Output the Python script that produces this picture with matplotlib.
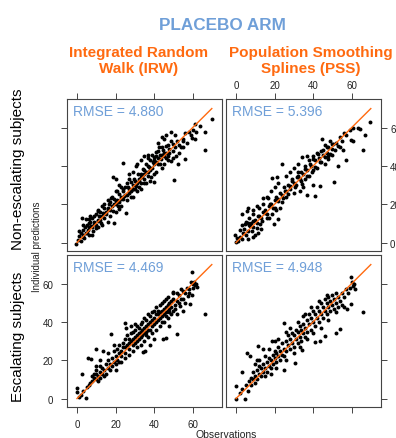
import matplotlib
matplotlib.use("Agg")
import matplotlib.pyplot as plt

# ---- data (observations, individual predictions) ----
IRW_NONESC = [
    (-0.5, -1), (0.3, 1.6), (1.2, 3.3), (2, 0.7), (2.9, 4.2), (1.2, 6), (3.8, 2.5), (4.7, 5.1),
    (2.9, 6.8), (5.5, 6.8), (6.4, 4.2), (7.3, 8.6), (8.1, 6), (2.6, 13), (4.7, 12.1), (6.4, 12.1),
    (9, 9.5), (9.9, 7.7), (10.7, 11.2), (11.6, 13.9), (12.5, 10.4), (13.3, 15.6), (10.7, 16.5),
    (15, 14.7), (14.2, 18.2), (15.9, 17.4), (16.8, 20), (18.5, 16.5), (19.3, 10.4), (17.6, 23.5),
    (20.2, 21.8), (21.1, 19.1), (22, 25.3), (22, 17.4), (22.8, 22.6), (23.7, 27.9), (24.6, 24.4),
    (25.4, 15.6), (24, 41.6), (18.5, 34), (20.2, 33.2), (26.3, 28.8), (27.2, 26.1), (28, 31.4),
    (28.9, 27.9), (29.8, 33.2), (30.6, 29.6), (30.8, 39.8), (31.5, 35.8), (32.4, 32.3), (33.2, 34),
    (34.1, 38.4), (34.6, 30.9), (35, 35.8), (35.8, 41.1), (36.7, 36.7), (36.9, 45.6), (37.5, 39.3),
    (38.4, 34), (39.3, 41.9), (39.8, 31.4), (40.1, 44.6), (41, 47.2), (41.9, 41.1), (42.7, 49.8),
    (43.6, 43.7), (44.5, 48.1), (45, 54), (45.3, 41.1), (46.2, 50.7), (47.1, 45.4), (47.9, 48.9),
    (48.8, 42.8), (49.7, 51.6), (50.5, 32.6), (51.4, 45.4), (52.2, 41.1), (54, 49.8), (54.8, 53.3),
    (56.1, 57.5), (56.3, 43.5), (59.7, 54.7), (61.4, 54), (61.2, 62.1), (63.8, 61.1), (66.6, 57.9),
    (66.3, 48.4), (70.1, 64.7),
    (3, 3), (5, 5), (6, 8), (8, 8), (9, 11), (10, 9), (11, 12), (12, 12), (13, 14), (14, 13),
    (15, 16), (16, 18), (17, 17), (18, 19), (19, 20), (20, 20), (21, 22), (22, 21), (23, 24),
    (24, 23), (25, 25), (5, 9), (7, 11), (12, 16), (14, 20), (18, 24), (20, 27), (22, 30), (10, 15),
    (26, 25), (27, 28), (28, 27), (29, 30), (30, 28), (30, 32), (31, 31), (32, 33), (33, 31),
    (33, 36), (34, 35), (35, 33), (35, 38), (36, 37), (37, 35), (37, 40), (38, 38), (39, 39),
    (40, 41), (40, 36), (41, 42), (42, 44), (43, 41), (44, 46), (45, 45), (46, 47), (47, 51),
    (48, 47), (49, 53), (50, 48), (51, 50), (52, 53), (53, 51), (55, 54), (58, 58), (60, 59),
    (38, 43), (39, 46), (41, 45), (42, 48), (43, 46), (44, 50), (45, 47), (46, 44), (40, 43),
    (37, 44), (26, 31), (27, 33), (29, 28), (31, 27), (32, 29), (33, 28), (28, 24), (25, 29),
    (24, 27), (23, 29), (21, 27), (19, 23), (17, 21), (16, 22), (13, 19), (11, 17), (9, 14),
    (8, 13), (7, 14), (6, 10), (4, 8), (3, 9), (2, 5), (8, 4), (11, 8), (13, 9), (16, 11),
    (17, 14), (20, 16), (23, 19), (26, 22), (29, 24), (36, 31), (38, 32), (41, 37), (44, 39),
    (47, 43), (50, 44), (53, 47), (55, 50), (57, 52), (59, 56), (62, 58), (49, 58), (51, 56),
    (44, 55), (42, 52), (46, 56), (35, 45), (33, 43), (31, 41), (29, 37), (27, 36),
]

PSS_NONESC = [
    (69.7, 63.2), (66.1, 48.1), (67, 56), (63.5, 59.8), (64.4, 59.5), (60.9, 53.3), (59.7, 53.7),
    (56.1, 57.2), (56.9, 43.2), (53.1, 40.2), (51, 31.4), (44.5, 53.9), (24, 41.1), (18.5, 33.7),
    (21.1, 34), (19.9, 9.8), (22, 12.1), (9, 14.7), (5.5, 16.5), (2.9, 14.7), (6.4, 18.2),
    (10.7, 19.1), (14.2, 23.5), (16.8, 23.5), (34.1, 44.6), (36.7, 45.4), (33.2, 27), (36.7, 24.9),
    (40.1, 30.2), (43.6, 29.6), (41, 24.4), (47.9, 43.7), (50.5, 51.6), (54, 49.8),
    (-0.5, 4.2), (0.3, 2.5), (0, 0.4), (2.1, 6.8), (3.8, 5.1), (4.7, 9.5), (7.3, 8.6), (8.1, 6),
    (9.9, 4.2), (11.6, 5.1), (10.7, 7.7), (12.5, 9.5), (13.3, 11.2), (15.9, 13), (15, 15.6),
    (11.6, 13.9), (9, 11.2), (6.4, 10.4), (18.5, 14.7), (20.2, 18.2), (17.6, 20), (22, 21.8),
    (22.8, 18.2), (24.6, 23.5), (25.4, 27), (27.2, 25.3), (28, 29.6), (28.9, 32.3), (30.6, 28.8),
    (31.5, 34), (32.4, 36.7), (34.1, 30.5), (35.8, 38.4), (36.7, 34.9), (38.4, 41.1), (39.3, 36.7),
    (40.1, 43.7), (41, 39.3), (42.7, 46.3), (43.6, 41.9), (45.3, 48.1), (46.2, 44.6), (47.1, 49.8),
    (48.8, 46.3), (49.7, 51.6), (51.4, 48.1), (53.1, 50.7), (54.8, 53.3), (55.7, 48.1),
    (1, 1), (2, 3), (3, 2), (4, 7), (5, 4), (6, 6), (7, 9), (8, 10), (9, 8), (10, 12), (11, 10),
    (12, 14), (13, 13), (14, 16), (15, 17), (16, 15), (17, 19), (18, 20), (19, 18), (20, 22),
    (21, 24), (22, 23), (23, 26), (24, 25), (25, 29), (26, 27), (27, 30), (28, 28), (29, 33),
    (30, 31), (31, 30), (32, 35), (33, 33), (34, 37), (35, 36), (36, 40), (37, 38), (38, 43),
    (39, 40), (40, 45), (41, 43), (42, 47), (43, 44), (44, 48), (45, 46), (46, 51), (47, 47),
    (48, 50), (49, 53), (50, 49), (52, 52), (54, 55), (57, 56), (59, 59), (61, 60),
    (3, 9), (5, 11), (7, 13), (9, 17), (12, 18), (14, 20), (16, 24), (18, 27), (20, 29), (22, 31),
    (26, 35), (28, 37), (30, 39), (32, 41), (34, 32), (36, 33), (38, 35), (40, 38), (42, 39),
    (44, 42), (46, 41), (48, 45), (50, 46), (26, 24), (24, 21), (21, 17), (17, 13), (13, 7),
    (9, 3), (6, 2), (30, 26), (35, 29),
]

IRW_ESC = [
    (66.3, 44.1), (59.9, 66.1), (59.4, 60.8), (61.1, 59.1), (62.3, 58.2), (57.6, 53.8), (59.9, 54.1),
    (58.5, 49.4), (53.3, 48.5), (52.1, 33.5), (46.4, 31.7), (44.6, 30.9), (49.8, 55.6), (24.7, 39.3),
    (25.5, 37), (34.2, 24.5), (35.1, 24.7), (9.9, 25.9), (5.6, 21.2), (7.3, 20.6), (2.6, 12.9),
    (-0.2, 5.3), (-0.2, 3.5), (4.7, 0.5), (6.4, 7.1), (13.4, 24.7), (16, 23.8), (20.3, 15),
    (9.9, 16.8), (17.7, 33.5),
    (8, 9), (9, 11), (10, 10), (10, 13), (11, 12), (12, 11), (12, 14), (13, 13), (13, 16), (14, 15),
    (14, 12), (11, 9), (9, 13), (8, 12), (10, 15), (12, 17), (15, 13), (15, 18), (16, 16), (17, 18),
    (16, 20), (18, 21), (17, 15), (19, 19), (18, 17), (20, 22), (21, 20), (20, 18), (22, 24),
    (21, 26), (23, 22), (19, 25), (22, 19),
    (23, 25), (24, 27), (25, 24), (24, 29), (26, 28), (25, 31), (27, 26), (26, 33), (28, 30),
    (27, 31), (29, 28), (28, 34), (30, 32), (29, 35), (31, 30), (30, 36), (32, 34), (31, 38),
    (33, 32), (32, 37), (34, 36), (33, 39), (35, 34), (34, 40), (36, 38), (35, 42), (37, 36),
    (36, 41), (38, 40), (37, 44), (39, 38), (38, 43), (40, 42), (39, 45), (41, 40), (40, 46),
    (42, 44), (41, 48), (43, 42), (42, 46), (44, 46), (43, 49), (45, 44), (44, 50), (46, 48),
    (45, 51), (47, 46), (46, 52), (48, 50), (47, 53), (49, 48), (48, 45), (50, 52), (51, 49),
    (50, 55), (52, 51), (53, 54), (54, 52), (55, 56), (56, 55), (57, 58), (58, 57), (60, 60),
    (61, 61), (58, 55), (55, 52), (53, 50), (51, 47), (49, 44), (47, 42), (45, 40), (43, 38),
    (41, 36), (39, 34), (37, 32), (35, 30), (33, 28), (31, 27), (29, 25), (27, 23), (25, 21),
    (23, 19), (36, 35), (38, 36), (40, 39), (42, 41), (44, 43), (46, 45), (48, 47), (41, 44),
    (39, 41), (37, 39), (35, 37), (33, 35), (31, 33), (29, 31), (27, 29), (25, 27), (43, 45),
    (45, 47), (47, 49), (49, 51), (52, 55), (54, 57), (30, 29), (32, 31), (34, 33), (36, 33),
    (44, 40), (46, 43), (50, 46),
    (30, 39), (28, 38), (22, 28), (19, 28), (12, 20), (7, 8), (5, 6), (3, 4), (2, 2), (1, 1),
    (55, 46), (52, 44), (38, 28), (40, 31), (48, 38), (56, 50), (60, 58), (62, 60),
]

PSS_ESC = [
    (66, 45), (59.9, 63.5), (61.1, 60), (62, 57.3), (57.6, 46.7), (59.9, 49.4), (54.2, 36.2),
    (51.9, 34.4), (46.4, 32.6), (43.8, 30), (41.1, 29.5), (34.2, 25.6), (24.7, 39.3), (18.6, 30),
    (11.6, 27.3), (5.6, 23.8), (7.3, 22), (11, 20.3), (3, 14.1), (-0.2, 6.5), (-0.2, 0),
    (4.7, -0.4), (24.7, 15), (30.7, 18.5),
    (7, 9), (8, 11), (9, 10), (9, 14), (10, 12), (11, 15), (11, 10), (12, 13), (12, 17), (13, 12),
    (13, 16), (14, 14), (14, 18), (15, 16), (15, 12), (16, 19), (16, 14), (17, 17), (17, 21),
    (18, 16), (18, 20), (19, 23), (19, 18), (20, 21), (20, 25), (21, 19), (21, 24), (22, 22),
    (22, 27), (23, 20), (23, 25), (24, 23), (24, 29), (25, 26), (25, 22), (26, 30), (26, 25),
    (27, 28), (27, 33), (28, 26), (28, 31), (29, 34), (29, 29), (30, 27), (30, 33), (31, 36),
    (31, 31), (32, 29), (32, 35), (33, 38), (33, 32), (34, 36), (34, 30), (35, 39), (35, 34),
    (36, 32), (36, 37), (37, 41), (37, 35), (38, 39), (38, 44), (39, 36), (39, 42), (40, 46),
    (40, 40), (41, 38), (41, 44), (42, 48), (42, 42), (43, 40), (43, 46), (44, 50), (44, 44),
    (45, 42), (45, 48), (46, 52), (46, 46), (47, 44), (47, 50), (48, 53), (48, 48), (49, 46),
    (49, 51), (50, 54), (50, 49), (51, 47), (51, 52), (52, 50), (52, 55), (53, 48), (53, 53),
    (54, 51), (55, 55), (55, 49), (56, 53), (57, 57), (58, 55), (59, 58), (60, 61), (61, 59),
    (3, 5), (5, 7), (6, 4), (2, 3), (8, 7), (10, 8), (12, 20), (10, 18), (15, 22), (14, 26),
    (17, 26), (20, 30), (22, 31), (26, 35), (28, 37), (36, 44), (30, 24), (33, 27), (37, 31),
    (40, 34), (44, 37), (48, 41), (52, 45), (56, 48), (32, 40), (35, 43), (39, 48), (43, 51),
    (47, 54), (26, 20), (21, 16), (18, 13),
]

RMSE = {"irw_nonesc": 4.880, "pss_nonesc": 5.396, "irw_esc": 4.469, "pss_esc": 4.948}
TICKS = [0, 20, 40, 60]
LINE_END = 70

BLUE = "#6f9fd8"
ORANGE = "#ff6a10"
TICK_COL = "#444444"

W, H = 396, 439
plt.rcParams["font.family"] = ["Liberation Sans", "DejaVu Sans"]
fig = plt.figure(figsize=(W / 100, H / 100), dpi=100)


def fx(px):
    return px / W


def fy(py):
    return 1 - py / H


def panel(x0, y0, x1, y1):
    return fig.add_axes([fx(x0), fy(y1), (x1 - x0) / W, (y1 - y0) / H])


def draw(ax, pts, rmse, top=False, bottom=False, left=False, right=False,
         ltop=False, lbottom=False, lleft=False, lright=False):
    obs = [p[0] for p in pts]
    pred = [p[1] for p in pts]
    ax.scatter(obs, pred, s=8, color="black", linewidths=0, zorder=3)
    ax.plot([0, LINE_END], [0, LINE_END], color=ORANGE, lw=1.0, zorder=4)
    ax.set_xlim(-5.2, 75.3)
    ax.set_ylim(-4.4, 75.0)
    ax.set_xticks(TICKS)
    ax.set_yticks(TICKS)
    for s in ax.spines.values():
        s.set_color(TICK_COL)
        s.set_linewidth(0.8)
    ax.tick_params(axis="x", direction="out", length=4, width=0.7, color=TICK_COL,
                   labelsize=7, labelcolor="#222222", top=top, bottom=bottom,
                   labeltop=ltop, labelbottom=lbottom, pad=2.5 if ltop else 5)
    ax.tick_params(axis="y", direction="out", length=4, width=0.7, color=TICK_COL,
                   labelsize=7, labelcolor="#222222", left=left, right=right,
                   labelleft=lleft, labelright=lright, pad=2.5 if lright else 6)
    ax.text(0.04, 0.918, f"RMSE = {rmse:.3f}", transform=ax.transAxes,
            ha="left", va="center", fontsize=10, color=BLUE)


ax_tl = panel(67, 100, 222, 252)
ax_tr = panel(226, 100, 381, 252)
ax_bl = panel(67, 256, 222, 408)
ax_br = panel(226, 256, 381, 408)

draw(ax_tl, IRW_NONESC, RMSE["irw_nonesc"], top=True, left=True)
draw(ax_tr, PSS_NONESC, RMSE["pss_nonesc"], top=True, right=True, ltop=True, lright=True)
draw(ax_bl, IRW_ESC, RMSE["irw_esc"], bottom=True, left=True, lbottom=True, lleft=True)
draw(ax_br, PSS_ESC, RMSE["pss_esc"], bottom=True, right=True)

# titles and strip labels
fig.text(fx(222), fy(25), "PLACEBO ARM", ha="center", va="center",
         fontsize=12.3, fontweight="bold", color=BLUE)
fig.text(fx(139), fy(61), "Integrated Random\nWalk (IRW)", ha="center", va="center",
         fontsize=11, fontweight="bold", color=ORANGE, linespacing=1.15)
fig.text(fx(311), fy(61), "Population Smoothing\nSplines (PSS)", ha="center", va="center",
         fontsize=11, fontweight="bold", color=ORANGE, linespacing=1.15)
fig.text(fx(18), fy(169), "Non-escalating subjects", rotation=90, ha="center",
         va="center", fontsize=11, color="black")
fig.text(fx(18), fy(337), "Escalating subjects", rotation=90, ha="center",
         va="center", fontsize=11, color="black")
fig.text(fx(37), fy(247), "Individual predictions", rotation=90, ha="center",
         va="center", fontsize=7, color="#222222")
fig.text(fx(226), fy(430), "Observations", ha="center", va="top",
         fontsize=7.5, color="#222222")

fig.savefig("out.png", dpi=100)
